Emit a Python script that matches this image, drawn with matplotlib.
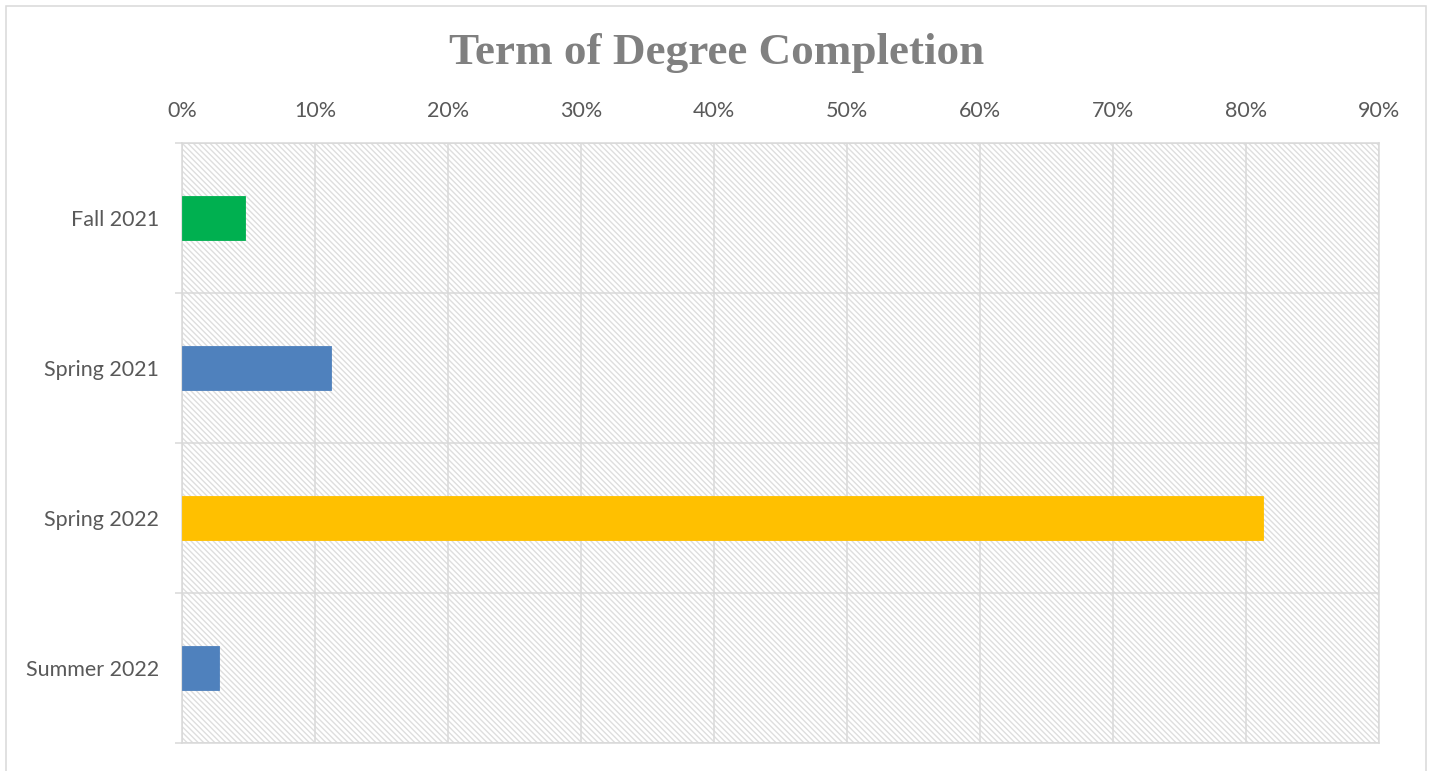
#!/usr/bin/env python3
"""Horizontal bar chart: term of degree completion."""

import matplotlib

matplotlib.use("Agg")

import matplotlib.pyplot as plt
import numpy as np
from matplotlib.patches import Rectangle
from matplotlib.ticker import FuncFormatter, FixedLocator

terms = ["Fall 2021", "Spring 2021", "Spring 2022", "Summer 2022"]
shares = [4.7, 11.2, 81.3, 2.8]
bar_colors = ["#00B050", "#4F81BD", "#FFC000", "#4F81BD"]
x_ticks = [0, 10, 20, 30, 40, 50, 60, 70, 80, 90]

GRID = "#D9D9D9"
TEXT = "#595959"

plt.rcParams["font.family"] = ["Lato", "DejaVu Sans"]
plt.rcParams["hatch.linewidth"] = 1.0

fig = plt.figure(figsize=(14.33, 7.71), dpi=100)
ax = fig.add_axes([182 / 1433, 1 - 743 / 771, (1379 - 182) / 1433, 600 / 771])

# hatched plot-area background
ax.add_patch(Rectangle((0, 0), 1, 1, transform=ax.transAxes, fill=False,
                       hatch="\\" * 6, edgecolor="#DEDEDE", linewidth=0, zorder=0))

y = np.arange(len(terms))
ax.barh(y, shares, height=0.29, color=bar_colors, edgecolor=bar_colors,
        linewidth=0.6, zorder=3)

ax.set_xlim(0, 90)
ax.set_ylim(len(terms) - 0.5, -0.5)
ax.xaxis.tick_top()
ax.set_xticks(x_ticks)
ax.xaxis.set_major_formatter(FuncFormatter(lambda v, _: f"{v:.0f}%"))
ax.set_yticks(y)
ax.set_yticklabels(terms)
ax.yaxis.set_minor_locator(FixedLocator(np.arange(-0.5, len(terms), 1.0)))

ax.tick_params(axis="x", which="major", length=0, pad=16, labelsize=15.5, labelcolor=TEXT)
ax.tick_params(axis="y", which="major", length=0, pad=16.5, labelsize=15.5, labelcolor=TEXT)
ax.tick_params(axis="y", which="minor", length=5, width=1.1, color=GRID)

ax.grid(axis="x", color=GRID, linewidth=1.1, zorder=1)
ax.grid(axis="y", which="minor", color=GRID, linewidth=1.1, zorder=1)
ax.set_axisbelow(True)
for spine in ax.spines.values():
    spine.set_color(GRID)
    spine.set_linewidth(1.1)

fig.text(0.5, 1 - 53 / 771, "Term of Degree Completion", ha="center", va="center",
         fontsize=32.5, fontweight="bold", color="#808080",
         family=["Liberation Serif", "DejaVu Serif"])

# chart border
fig.add_artist(Rectangle((6 / 1433, -0.05), 1420 / 1433, 1.05 - 6 / 771,
                         transform=fig.transFigure, fill=False,
                         edgecolor=GRID, linewidth=1.1))

fig.savefig("out.png", dpi=100)
